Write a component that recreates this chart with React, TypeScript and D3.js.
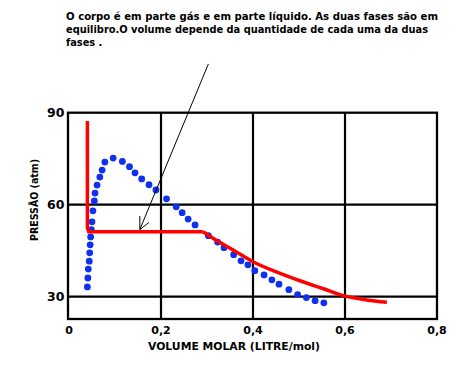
import React from 'react';
import * as d3 from 'd3';

const noteLines = [
  'O corpo é em parte gás e em parte líquido. As duas fases são em',
  'equilibro.O volume depende da quantidade de cada uma da duas',
  'fases .',
];
const xTicks = [0, 0.2, 0.4, 0.6, 0.8];
const yTicks = [30, 60, 90];
const xTitle = 'VOLUME MOLAR (LITRE/mol)';
const yTitle = 'PRESSÃO (atm)';

// blue dots : volume (L/mol) and pressure (atm)
const dotVolume = [
  0.040, 0.041, 0.042, 0.044, 0.045, 0.046, 0.047, 0.0485, 0.050, 0.052,
  0.055, 0.0565, 0.061, 0.067, 0.072, 0.078, 0.096, 0.116, 0.1315, 0.1435,
  0.158, 0.174, 0.189, 0.212, 0.233, 0.246, 0.259, 0.274, 0.303, 0.323,
  0.337, 0.358, 0.374, 0.389, 0.404, 0.424, 0.441, 0.4565, 0.478, 0.497,
  0.516, 0.535, 0.554,
];
const dotPressure = [
  33.2, 36.1, 39.0, 41.6, 44.3, 46.9, 49.5, 51.9, 54.4, 58.0,
  61.2, 63.8, 66.4, 69.0, 71.3, 73.9, 75.2, 74.1, 72.4, 70.4,
  68.4, 66.5, 64.8, 61.9, 59.3, 57.4, 55.3, 53.4, 49.9, 47.8,
  46.0, 43.7, 41.7, 40.4, 38.5, 37.1, 35.5, 34.1, 32.3, 30.7,
  29.7, 28.7, 28.0,
];

// red isotherm : liquid branch + plateau, then gas branch
const liquidVolume = [0.04, 0.04, 0.043, 0.291];
const liquidPressure = [87.3, 52.5, 51.2, 51.2];
const gasVolume = [0.291, 0.314, 0.357, 0.4, 0.452, 0.502, 0.553, 0.6, 0.625, 0.669, 0.691];
const gasPressure = [51.2, 49.0, 45.2, 41.4, 38.0, 35.2, 32.6, 30.2, 29.5, 28.5, 28.2];

// annotation arrow (volume, pressure)
const arrowFrom = [0.303, 105.9];
const arrowTo = [0.154, 51.9];

const Chart = () => {
  const svgRef = React.useRef(null);

  const width = 457;
  const height = 369;
  const left = 68, right = 437, top = 112.7, bottom = 319;

  React.useEffect(() => {
    const svg = d3.select(svgRef.current);
    svg.selectAll('*').remove();

    const x = d3.scaleLinear().domain([0, 0.8]).range([69, 437]);
    const y = d3.scaleLinear().domain([30, 90]).range([296.7, top]);

    svg.append('rect').attr('width', width).attr('height', height).attr('fill', '#fff');

    // note at the top
    const note = svg.append('g')
      .attr('font-family', 'DejaVu Sans')
      .attr('font-weight', 'bold')
      .attr('font-size', 9.8);
    const lengths = [372, 362, null];
    noteLines.forEach((t, i) => {
      const el = note.append('text')
        .attr('x', 66)
        .attr('y', 19.5 + i * 13)
        .text(t);
      if (lengths[i]) el.attr('textLength', lengths[i]).attr('lengthAdjust', 'spacingAndGlyphs');
    });

    // grid
    const grid = svg.append('g').attr('stroke', '#000').attr('stroke-width', 2.2);
    grid.selectAll('line.h')
      .data(yTicks.filter(d => d < 90))
      .enter()
        .append('line')
        .attr('x1', left).attr('x2', right)
        .attr('y1', d => y(d)).attr('y2', d => y(d));
    grid.selectAll('line.v')
      .data(xTicks.filter(d => d > 0 && d < 0.8))
      .enter()
        .append('line')
        .attr('x1', d => x(d)).attr('x2', d => x(d))
        .attr('y1', top).attr('y2', bottom);
    svg.append('rect')
      .attr('x', left).attr('y', top)
      .attr('width', right - left).attr('height', bottom - top)
      .attr('fill', 'none').attr('stroke', '#000').attr('stroke-width', 2.3);

    // tick labels
    svg.append('g')
      .selectAll('text')
      .data(yTicks)
      .enter()
        .append('text')
        .attr('x', 64.5)
        .attr('y', d => y(d))
        .attr('dy', '0.36em')
        .attr('text-anchor', 'end')
        .attr('font-family', 'DejaVu Sans')
        .attr('font-weight', 'bold')
        .attr('font-size', 12.5)
        .text(d => d);

    svg.append('g')
      .selectAll('text')
      .data(xTicks)
      .enter()
        .append('text')
        .attr('x', d => x(d))
        .attr('y', 333.5)
        .attr('text-anchor', 'middle')
        .attr('font-family', 'DejaVu Sans')
        .attr('font-weight', 'bold')
        .attr('font-size', 11)
        .text(d => String(d).replace('.', ','));

    svg.append('text')
      .attr('x', 234)
      .attr('y', 349.5)
      .attr('text-anchor', 'middle')
      .attr('font-family', 'DejaVu Sans')
      .attr('font-weight', 'bold')
      .attr('font-size', 10.5)
      .attr('textLength', 172)
      .attr('lengthAdjust', 'spacingAndGlyphs')
      .text(xTitle);

    svg.append('text')
      .attr('transform', 'translate(38,200) rotate(-90)')
      .attr('text-anchor', 'middle')
      .attr('font-family', 'DejaVu Sans')
      .attr('font-weight', 'bold')
      .attr('font-size', 11)
      .attr('textLength', 82)
      .attr('lengthAdjust', 'spacingAndGlyphs')
      .text(yTitle);

    // dots
    svg.append('g')
      .selectAll('circle')
      .data(dotVolume.map((v, i) => [v, dotPressure[i]]))
      .enter()
        .append('circle')
        .attr('cx', d => x(d[0]))
        .attr('cy', d => y(d[1]))
        .attr('r', 3.4)
        .attr('fill', '#1030f0');

    // red curve
    const straight = d3.line().x(d => x(d[0])).y(d => y(d[1]));
    const smooth = d3.line().x(d => x(d[0])).y(d => y(d[1])).curve(d3.curveMonotoneX);
    const red = svg.append('g')
      .attr('fill', 'none')
      .attr('stroke', '#ff0000')
      .attr('stroke-width', 3.5);
    red.append('path')
      .attr('d', straight(liquidVolume.map((v, i) => [v, liquidPressure[i]])));
    red.append('path')
      .attr('d', smooth(gasVolume.map((v, i) => [v, gasPressure[i]])));

    // arrow
    const ax1 = x(arrowFrom[0]), ay1 = y(arrowFrom[1]);
    const ax2 = x(arrowTo[0]), ay2 = y(arrowTo[1]);
    const arrow = svg.append('g').attr('stroke', '#000').attr('stroke-width', 1).attr('fill', 'none');
    arrow.append('line').attr('x1', ax1).attr('y1', ay1).attr('x2', ax2).attr('y2', ay2);
    arrow.append('path')
      .attr('d', `M${ax2},${ay2 - 13.5}L${ax2},${ay2}L${ax2 + 9},${ay2 - 7}`);
  }, []);

  return <svg ref={svgRef} width={width} height={height}
    style={{ position: 'absolute', left: 0, top: 0, display: 'block' }} />;
};

export default function App() {
  return <Chart />;
}
